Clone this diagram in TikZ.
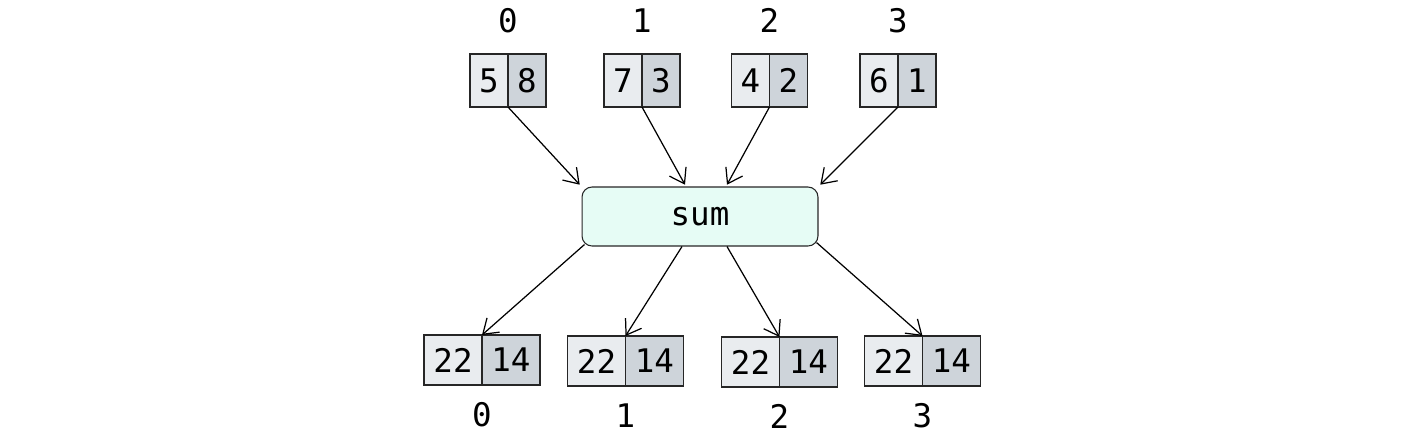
\documentclass[tikz,border=0pt]{standalone}
\usepackage{fontspec}
\setmonofont{DejaVu Sans Mono}
\usetikzlibrary{positioning,arrows.meta}
\definecolor{lgray}{HTML}{E9ECEF}
\definecolor{dgray}{HTML}{CED4DA}
\definecolor{mint}{HTML}{E6FCF5}
\tikzset{
  numfont/.style={font=\ttfamily\fontsize{18.5}{20}\selectfont},
  cell/.style={draw=black!85, line width=1.1pt, inner sep=0pt, outer sep=0pt, numfont},
  topcell/.style={cell, minimum width=0.76cm, minimum height=1.06cm},
  botcell/.style={cell, minimum width=1.16cm, minimum height=1.0cm},
  idx/.style={numfont, inner sep=0pt},
  link/.style={line width=0.7pt, -{Straight Barb[length=2.8mm,width=3.8mm]}},
}
\begin{document}
\begin{tikzpicture}[x=0.02cm, y=-0.02cm]
\useasboundingbox (0,0) rectangle (1403,436);
%\draw[step=50,gray,very thin] (0,0) grid (1403,436); %background grid

% input pairs
\node[topcell, fill=lgray] (t0a) at (489,80.5) {5};
\node[topcell, fill=dgray, right=0pt of t0a] (t0b) {8};
\node[topcell, fill=lgray] (t1a) at (623,80.5) {7};
\node[topcell, fill=dgray, right=0pt of t1a] (t1b) {3};
\node[topcell, fill=lgray] (t2a) at (750.5,80.5) {4};
\node[topcell, fill=dgray, right=0pt of t2a] (t2b) {2};
\node[topcell, fill=lgray] (t3a) at (879,80.5) {6};
\node[topcell, fill=dgray, right=0pt of t3a] (t3b) {1};

\node[idx, above=0.42cm of t0a.north east] (ti0) {0};
\node[idx, above=0.42cm of t1a.north east] (ti1) {1};
\node[idx, above=0.42cm of t2a.north east] (ti2) {2};
\node[idx, above=0.42cm of t3a.north east] (ti3) {3};

% reduction
\node[draw=black!85, line width=0.6pt, fill=mint, rounded corners=0.2cm,
      minimum width=4.72cm, minimum height=1.18cm, numfont] (sum) at (700,216.5) {sum};

% outputs
\node[botcell, fill=lgray] (b0a) at (453,360) {22};
\node[botcell, fill=dgray, right=0pt of b0a] (b0b) {14};
\node[botcell, fill=lgray] (b1a) at (596.5,361) {22};
\node[botcell, fill=dgray, right=0pt of b1a] (b1b) {14};
\node[botcell, fill=lgray] (b2a) at (750.5,362) {22};
\node[botcell, fill=dgray, right=0pt of b2a] (b2b) {14};
\node[botcell, fill=lgray] (b3a) at (893.5,361) {22};
\node[botcell, fill=dgray, right=0pt of b3a] (b3b) {14};

\node[idx, below=0.34cm of b0a.south east] (bi0) {0};
\node[idx, below=0.34cm of b1a.south east] (bi1) {1};
\node[idx, below=0.34cm of b2a.south east] (bi2) {2};
\node[idx, below=0.34cm of b3a.south east] (bi3) {3};

% arrows in
\draw[link] (t0a.south east) -- ([xshift=-1pt,yshift=1pt]sum.north west);
\draw[link] (t1a.south east) -- ([xshift=-0.3cm,yshift=1pt]sum.north);
\draw[link] (t2a.south east) -- ([xshift=0.54cm,yshift=1pt]sum.north);
\draw[link] (t3a.south east) -- ([xshift=1pt,yshift=1pt]sum.north east);

% arrows out
\draw[link] ([xshift=0.06cm,yshift=0.04cm]sum.south west) -- (b0a.north east);
\draw[link] ([xshift=-0.36cm]sum.south) -- (b1a.north east);
\draw[link] ([xshift=0.54cm]sum.south) -- (b2a.north east);
\draw[link] ([xshift=-0.04cm,yshift=0.08cm]sum.south east) -- (b3a.north east);
\end{tikzpicture}
\end{document}
